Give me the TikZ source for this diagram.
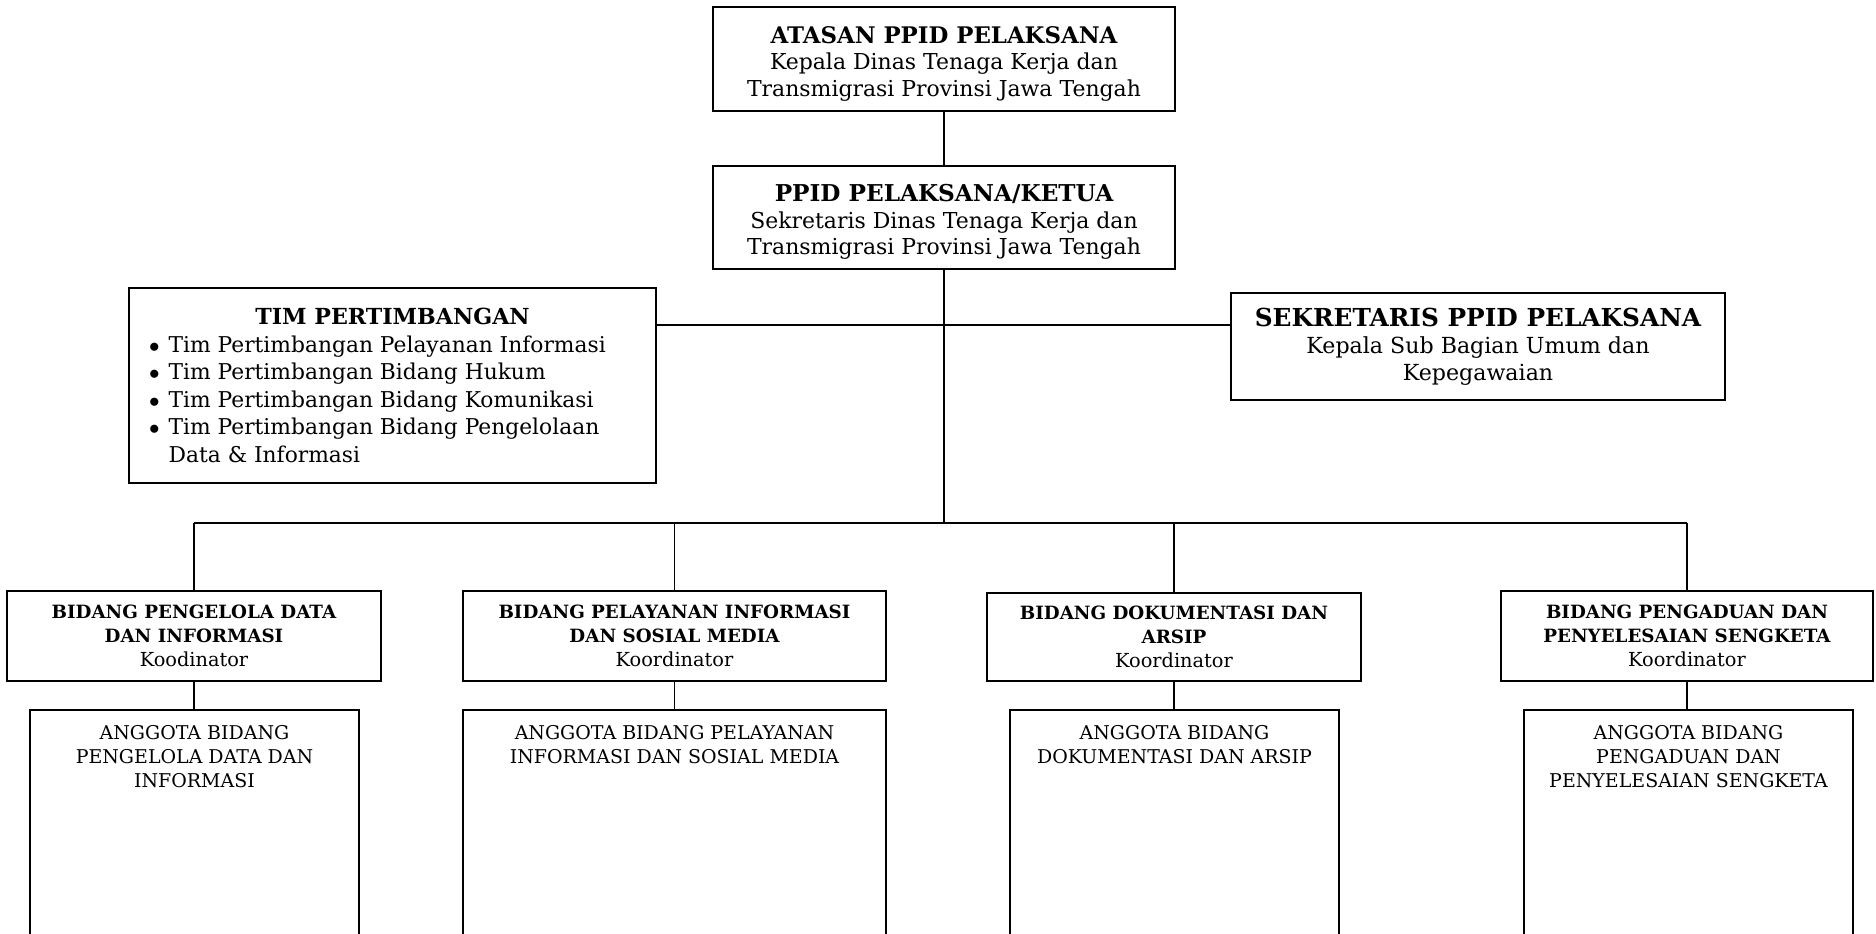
\documentclass[tikz,border=0pt]{standalone}
\usepackage{fontspec}
\setmainfont{DejaVu Serif}
\usetikzlibrary{positioning}

\tikzset{
  kotak/.style={draw, line width=1.1pt, align=center, inner sep=0pt},
  garis/.style={line width=0.7pt},
}
\newcommand{\judul}[2][13]{{\fontsize{#1}{15}\selectfont\bfseries #2}}
\newcommand{\bidjudul}[1]{{\fontsize{10.4}{13.6}\selectfont\bfseries #1}}
\newcommand{\turun}{\rule{0pt}{15pt}}
\newcommand{\butir}[1]{\par\noindent\makebox[0.9em][l]{$\bullet$}#1}

\begin{document}
\begin{tikzpicture}[x=0.02cm, y=-0.02cm]
  \useasboundingbox (0,0) rectangle (1876,933);
  % pimpinan
  \node[kotak, minimum width=9.24cm, minimum height=2.08cm, font=\fontsize{12.5}{15}\selectfont] (atasan) at (944,59)
    {\turun\judul{ATASAN PPID PELAKSANA}\\Kepala Dinas Tenaga Kerja dan\\Transmigrasi Provinsi Jawa Tengah};
  \node[kotak, minimum width=9.24cm, minimum height=2.06cm, font=\fontsize{12.5}{15}\selectfont] (ketua) at (944,217.5)
    {\turun\judul[13.2]{PPID PELAKSANA/KETUA}\\Sekretaris Dinas Tenaga Kerja dan\\Transmigrasi Provinsi Jawa Tengah};
  % tim dan sekretaris
  \node[kotak, text width=9.74cm, inner xsep=0.4cm, minimum height=3.9cm, align=none, font=\fontsize{12.4}{15.7}\selectfont] (tim) at (392.5,385.5)
    {{\centering\fontsize{12.6}{17}\selectfont\bfseries TIM PERTIMBANGAN\par}
     \raggedright
     \butir{Tim Pertimbangan Pelayanan Informasi}
     \butir{Tim Pertimbangan Bidang Hukum}
     \butir{Tim Pertimbangan Bidang Komunikasi}
     \butir{Tim Pertimbangan Bidang Pengelolaan}
     \par\noindent\hspace*{0.9em}Data \& Informasi\par};
  \node[kotak, minimum width=9.88cm, minimum height=2.14cm, font=\fontsize{12.6}{15.4}\selectfont] (sek) at (1478,346.5)
    {\judul[14.1]{SEKRETARIS PPID PELAKSANA}\\Kepala Sub Bagian Umum dan\\Kepegawaian};
  % bidang
  \node[kotak, minimum width=7.48cm, minimum height=1.8cm, font=\fontsize{11}{13.6}\selectfont] (bid1) at (194,636)
    {\bidjudul{BIDANG PENGELOLA DATA}\\\bidjudul{DAN INFORMASI}\\Koodinator};
  \node[kotak, minimum width=8.46cm, minimum height=1.8cm, font=\fontsize{11}{13.6}\selectfont] (bid2) at (674.5,636)
    {\bidjudul{BIDANG PELAYANAN INFORMASI}\\\bidjudul{DAN SOSIAL MEDIA}\\Koordinator};
  \node[kotak, minimum width=7.48cm, minimum height=1.76cm, font=\fontsize{11}{13.6}\selectfont] (bid3) at (1174,637)
    {\bidjudul{BIDANG DOKUMENTASI DAN}\\\bidjudul{ARSIP}\\Koordinator};
  \node[kotak, minimum width=7.44cm, minimum height=1.8cm, font=\fontsize{11}{13.6}\selectfont] (bid4) at (1687,636)
    {\bidjudul{BIDANG PENGADUAN DAN}\\\bidjudul{PENYELESAIAN SENGKETA}\\Koordinator};
  % anggota
  \tikzset{anggota/.style={kotak, minimum height=6cm, anchor=north,
    label={[anchor=north, yshift=-0.2cm, align=center, font=\fontsize{10.8}{13.6}\selectfont]north:#1}}}
  \node[anggota={ANGGOTA BIDANG\\PENGELOLA DATA DAN\\INFORMASI}, minimum width=6.58cm] (ang1) at (194.5,709) {};
  \node[anggota={ANGGOTA BIDANG PELAYANAN\\INFORMASI DAN SOSIAL MEDIA}, minimum width=8.46cm] (ang2) at (674.5,709) {};
  \node[anggota={ANGGOTA BIDANG\\DOKUMENTASI DAN ARSIP}, minimum width=6.58cm] (ang3) at (1174.5,709) {};
  \node[anggota={ANGGOTA BIDANG\\PENGADUAN DAN\\PENYELESAIAN SENGKETA}, minimum width=6.58cm] (ang4) at (1688.5,709) {};
  % garis
  \coordinate (cabang) at (944,325);
  \coordinate (bus) at (944,523);
  \draw[garis] (atasan) -- (ketua);
  \draw[garis] (ketua) -- (bus);
  \draw[garis] (tim.east |- cabang) -- (sek.west |- cabang);
  \draw[garis] (bid1.north |- bus) -- (bid4.north |- bus);
  \foreach \i in {1,...,4} {
    \draw[garis] (bid\i.north |- bus) -- (bid\i.north);
    \draw[garis] (bid\i.south) -- (bid\i.south |- ang\i.north);
  }
\end{tikzpicture}
\end{document}
